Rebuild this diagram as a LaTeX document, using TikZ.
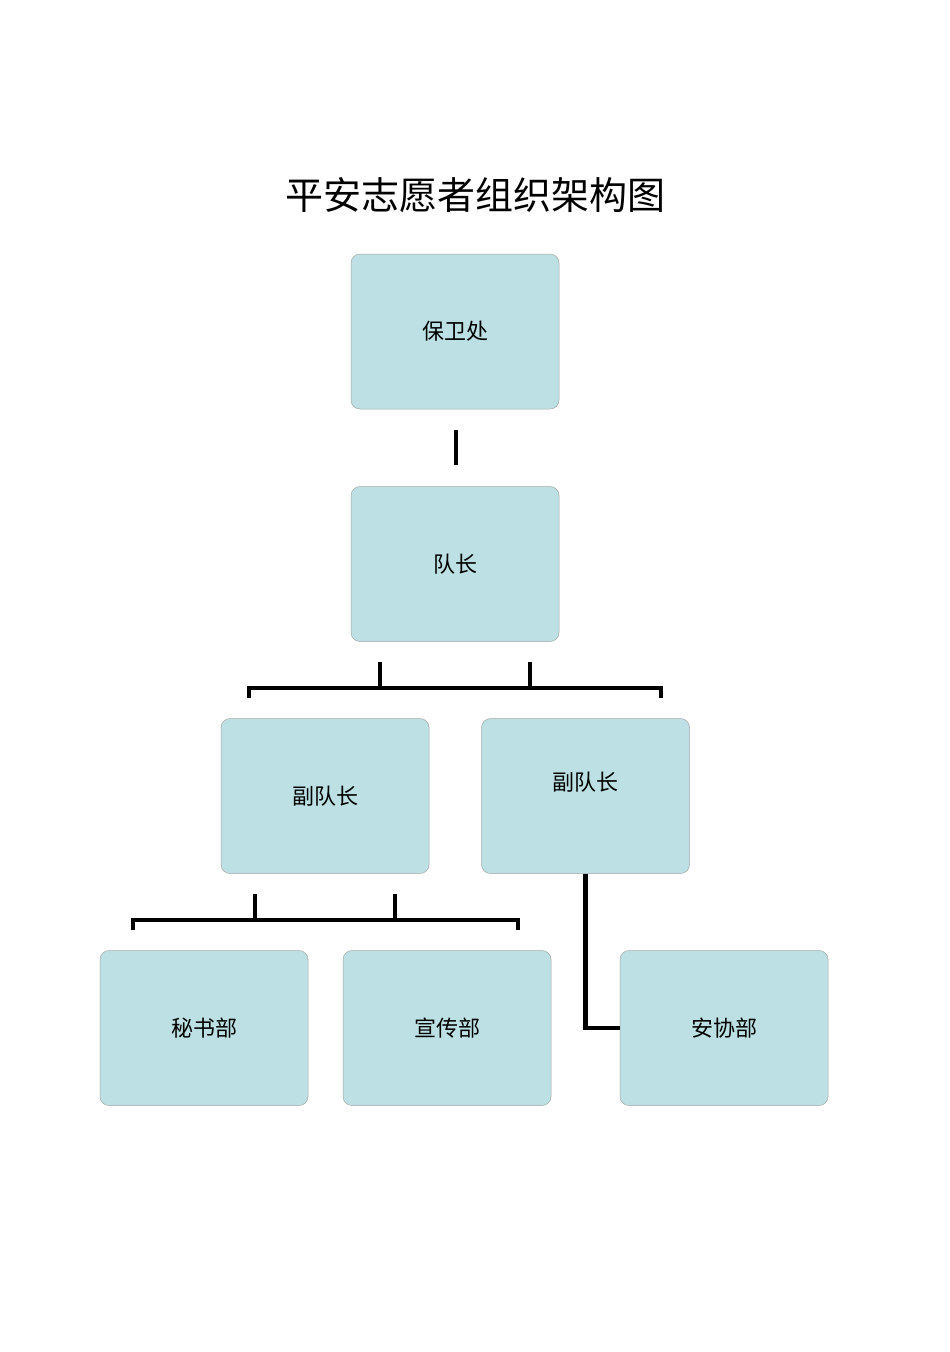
\documentclass[tikz,border=0pt]{standalone}
\usepackage{fontspec}
\newfontfamily\cjk{Noto Sans CJK SC}
\begin{document}
\begin{tikzpicture}[x=1pt,y=-1pt,
  box/.style={draw=gray!70, line width=0.5pt, fill={rgb,255:red,188;green,224;blue,227}, rounded corners=9pt, minimum width=208pt, minimum height=155pt, font=\cjk\fontsize{22}{26}\selectfont, inner sep=0pt},
  conn/.style={line width=4.5pt}]
\useasboundingbox (0,0) rectangle (950,1352);
\node[font=\cjk\fontsize{38}{44}\selectfont] (title) at (475,195) {平安志愿者组织架构图};
\node[box] (a) at (455,331.5) {保卫处};
\node[box] (b) at (455,564) {队长};
\node[box] (c) at (325,796) {副队长};
\node[box, text depth=70pt, text height=0pt] (d) at (585.5,796) {};
\node[font=\cjk\fontsize{22}{26}\selectfont] (dt) at (585.5,782) {副队长};
\node[box] (e) at (204,1028) {秘书部};
\node[box] (f) at (447,1028) {宣传部};
\node[box] (g) at (724,1028) {安协部};
\coordinate (v1) at (456,430); \coordinate (v2) at (456,465);
\draw[conn] (v1) -- (v2);
\draw[conn] (249,698) -- (249,688) -- (661,688) -- (661,698);
\draw[conn] (380,662) -- (380,688);
\draw[conn] (530,662) -- (530,688);
\draw[conn] (133,930) -- (133,920) -- (518,920) -- (518,930);
\draw[conn] (255,894) -- (255,920);
\draw[conn] (395,894) -- (395,920);
\draw[conn] (d.south) ++(0,0) coordinate (ds);
\draw[conn] (585.5,873.5) |- (g.west);
\end{tikzpicture}
\end{document}
